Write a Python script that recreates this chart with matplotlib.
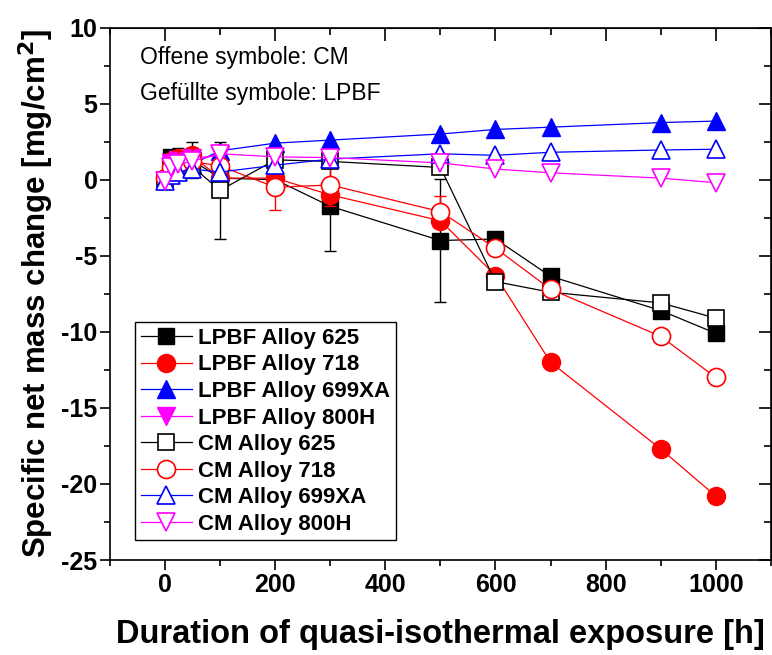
import numpy as np
import matplotlib.pyplot as plt

plt.rcParams['font.family'] = ['Liberation Sans', 'DejaVu Sans']

# exposure times [h]
t_cm = [0, 10, 24, 48, 100, 200, 300, 500, 600, 700, 900, 1000]
t_lpbf = [10, 24, 48, 100, 200, 300, 500, 600, 700, 900, 1000]
t_800h_lpbf = [10, 24, 48, 100]

# specific net mass change [mg/cm2]
lpbf_625 = [1.5, 1.3, 1.3, 0.1, 0.0, -1.75, -4.0, -3.9, -6.35, -8.6, -10.1]
lpbf_625_err = [0, 0.8, 1.2, 0, 0, 2.95, 4.05, 0, 0, 0, 0]
lpbf_718 = [1.2, 1.4, 1.6, 0.1, 0.1, -1.0, -2.7, -6.3, -12.0, -17.7, -20.8]
lpbf_699xa = [0.6, 0.8, 1.0, 1.9, 2.4, 2.6, 3.0, 3.3, 3.45, 3.75, 3.85]
lpbf_800h = [1.1, 1.3, 1.4, 1.6]

cm_625 = [0.0, 0.6, 0.8, 0.9, -0.7, 1.3, 1.2, 0.8, -6.7, -7.4, -8.1, -9.1]
cm_625_err = [0, 0, 0, 0, 3.2, 0, 0, 0, 0, 0, 0, 0]
cm_718 = [0.1, 0.8, 1.0, 1.2, 0.9, -0.5, -0.35, -2.1, -4.5, -7.2, -10.3, -13.0]
cm_718_err = [0, 0, 0.9, 0.9, 0, 1.5, 1.35, 1.0, 0, 0, 0, 0]
cm_699xa = [-0.1, 0.3, 0.5, 0.7, 0.5, 0.95, 1.35, 1.7, 1.6, 1.8, 1.95, 2.0]
cm_800h = [-0.1, 0.8, 1.0, 1.2, 1.7, 1.5, 1.45, 1.1, 0.7, 0.45, 0.1, -0.2]

fig = plt.figure(figsize=(7.72, 6.55), dpi=100)
ax = fig.add_axes([0.1425, 0.145, 0.856, 0.813])

ms = 13
ms_sq = 11.5
lw = 0.9

# filled symbols: LPBF
ax.errorbar(t_lpbf, lpbf_625, yerr=lpbf_625_err, fmt='none', ecolor='black', elinewidth=1, capsize=4, zorder=2)
ax.plot(t_lpbf, lpbf_625, '-s', color='black', mfc='black', mec='black', ms=ms_sq, lw=lw, label='LPBF Alloy 625', zorder=3)
ax.plot(t_lpbf, lpbf_718, '-o', color='red', mfc='red', mec='red', ms=ms, lw=lw, label='LPBF Alloy 718', zorder=3)
ax.plot(t_lpbf, lpbf_699xa, '-^', color='blue', mfc='blue', mec='blue', ms=ms, lw=lw, label='LPBF Alloy 699XA', zorder=3)
ax.plot(t_800h_lpbf, lpbf_800h, '-v', color='magenta', mfc='magenta', mec='magenta', ms=ms, lw=lw, label='LPBF Alloy 800H', zorder=3)

# open symbols: CM
ax.errorbar(t_cm, cm_625, yerr=cm_625_err, fmt='none', ecolor='black', elinewidth=1, capsize=4, zorder=4)
ax.errorbar(t_cm, cm_718, yerr=cm_718_err, fmt='none', ecolor='red', elinewidth=1, capsize=4, zorder=4)
ax.plot(t_cm, cm_625, '-s', color='black', mfc='white', mec='black', mew=1.2, ms=ms_sq, lw=lw, label='CM Alloy 625', zorder=5)
ax.plot(t_cm, cm_718, '-o', color='red', mfc='white', mec='red', mew=1.2, ms=ms, lw=lw, label='CM Alloy 718', zorder=5)
ax.plot(t_cm, cm_699xa, '-^', color='blue', mfc='white', mec='blue', mew=1.2, ms=ms, lw=lw, label='CM Alloy 699XA', zorder=5)
ax.plot(t_cm, cm_800h, '-v', color='magenta', mfc='white', mec='magenta', mew=1.2, ms=ms, lw=lw, label='CM Alloy 800H', zorder=5)

ax.set_xlim(-100, 1100)
ax.set_ylim(-25, 10)
ax.set_xticks(np.arange(0, 1001, 200))
ax.set_xticks(np.arange(-100, 1101, 100), minor=True)
ax.set_yticks(np.arange(-25, 11, 5))
ax.set_yticks(np.arange(-25, 10.1, 2.5), minor=True)
ax.set_yticklabels([str(v) for v in range(-25, 11, 5)])

for sp in ax.spines.values():
    sp.set_linewidth(1.2)

ax.tick_params(which='both', direction='out', width=1.2, labelsize=18, pad=2)
ax.tick_params(which='major', length=7)
ax.tick_params(which='minor', length=4)
for lab in ax.get_xticklabels() + ax.get_yticklabels():
    lab.set_fontweight('bold')

# inward ticks on the top and right sides
top = ax.secondary_xaxis('top')
top.set_xticks(np.arange(0, 1001, 200))
top.set_xticks(np.arange(-100, 1101, 100), minor=True)
top.tick_params(which='both', direction='in', width=1.2, labeltop=False)
top.tick_params(which='major', length=9)
top.tick_params(which='minor', length=5)
right = ax.secondary_yaxis('right')
right.set_yticks(np.arange(-25, 11, 5))
right.set_yticks(np.arange(-25, 10.1, 2.5), minor=True)
right.tick_params(which='both', direction='in', width=1.2, labelright=False)
right.tick_params(which='major', length=9)
right.tick_params(which='minor', length=5)

ax.set_xlabel('Duration of quasi-isothermal exposure [h]', fontsize=23.5, fontweight='bold', labelpad=16)
ax.set_ylabel('Specific net mass change [mg/cm$^\\mathbf{2}$]', fontsize=22.5, fontweight='bold', labelpad=4)

ax.text(0.045, 0.943, 'Offene symbole: CM', transform=ax.transAxes, fontsize=16.5, va='center')
ax.text(0.045, 0.877, 'Gefüllte symbole: LPBF', transform=ax.transAxes, fontsize=16.5, va='center')

leg = ax.legend(loc='lower left', bbox_to_anchor=(0.038, 0.037), fancybox=False,
                edgecolor='black', framealpha=1, borderaxespad=0,
                prop={'weight': 'bold', 'size': 16}, handlelength=2.3,
                labelspacing=0.25, borderpad=0.25, handletextpad=0.3)
leg.get_frame().set_linewidth(1.0)

fig.savefig('out.png', dpi=100)
